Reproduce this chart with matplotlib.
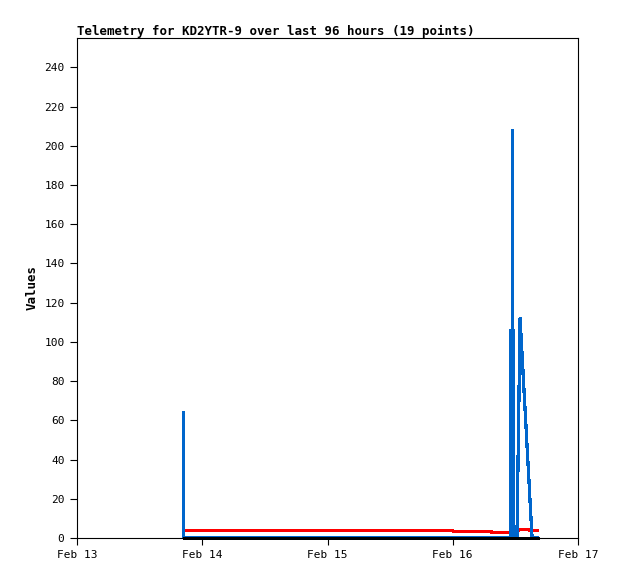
import datetime as dt
import matplotlib
matplotlib.use('Agg')
import matplotlib.pyplot as plt
import matplotlib.dates as mdates

plt.rcParams['font.family'] = 'DejaVu Sans Mono'
plt.rcParams['font.size'] = 8

# telemetry samples: hours after Feb 13 00:00
base = dt.datetime(2024, 2, 13)
hours = [20.35, 20.45, 72.0, 72.1, 79.3, 79.4,
         83.14, 83.16, 83.40, 83.42, 83.50, 83.52, 83.68, 83.70,
         84.3, 84.9, 87.2, 88.3]
blue_vals = [64, 0, 0, 0, 0, 0,
             0, 106, 106, 208, 208, 106, 106, 0,
             0, 112, 0, 0]
red_vals = [4, 4, 4, 3.5, 3.5, 3,
            3, 3, 3, 3, 3, 3, 3, 3,
            3.2, 4.5, 4, 4]
black_vals = [0] * len(hours)

times = [base + dt.timedelta(hours=h) for h in hours]
day_ticks = [base + dt.timedelta(days=d) for d in range(5)]

fig = plt.figure(figsize=(6.18, 5.79), dpi=100)
ax = fig.add_axes([77 / 618, 1 - 538 / 579, 501 / 618, 500 / 579])

ax.plot(times, red_vals, color='#ff0000', linewidth=1.6, antialiased=False)
ax.plot(times, blue_vals, color='#0066cc', linewidth=1.6, antialiased=False)
ax.plot(times[1:], black_vals[1:], color='black', linewidth=2.0,
        antialiased=False, clip_on=False, zorder=4)

ax.set_xlim(day_ticks[0], day_ticks[-1])
ax.set_ylim(0, 255)
ax.set_yticks(range(0, 241, 20))
ax.set_xticks(day_ticks)
ax.xaxis.set_major_formatter(mdates.DateFormatter('%b %d'))

for s in ax.spines.values():
    s.set_linewidth(0.8)
ax.tick_params(direction='out', length=5, width=0.8, pad=4, labelsize=8)

ax.set_ylabel('Values', fontweight='bold', fontsize=9, labelpad=4)
ax.set_title('Telemetry for KD2YTR-9 over last 96 hours (19 points)',
             loc='left', fontweight='bold', fontsize=9, pad=2)

fig.savefig('out.png', dpi=100)
